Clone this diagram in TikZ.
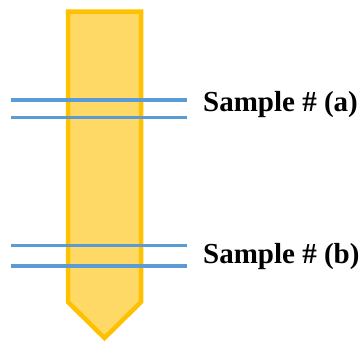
\documentclass[tikz,border=0pt]{standalone}
\usepackage{fontspec}
\setmainfont{Liberation Serif}
\definecolor{barfill}{HTML}{FFD966}
\definecolor{barline}{HTML}{FFC000}
\definecolor{lineblue}{HTML}{5B9BD5}
\begin{document}
\begin{tikzpicture}[x=1pt,y=-1pt,
  bar/.style={fill=barfill,draw=barline,line width=4.5pt,line join=miter},
  cut/.style={draw=lineblue,line width=3.2pt},
  lab/.style={font=\fontsize{29}{29}\selectfont\bfseries,inner sep=0pt,anchor=base west}]
\useasboundingbox (0,0) rectangle (362,343);
\draw[bar] (68,11.5) -- (141,11.5) -- (141,302) -- (104.5,338) -- (68,302) -- cycle;
\coordinate (a1l) at (11,100);  \coordinate (a1r) at (187,100);
\coordinate (a2l) at (11,117.5);\coordinate (a2r) at (187,117.5);
\coordinate (b1l) at (11,245.5);\coordinate (b1r) at (187,245.5);
\coordinate (b2l) at (11,266);  \coordinate (b2r) at (187,266);
\draw[cut] (a1l) -- (a1r);
\draw[cut] (a2l) -- (a2r);
\draw[cut] (b1l) -- (b1r);
\draw[cut] (b2l) -- (b2r);
\node[lab] (la) at (203,111) {Sample \# (a)};
\node[lab] (lb) at (203,263) {Sample \# (b)};
\end{tikzpicture}
\end{document}
